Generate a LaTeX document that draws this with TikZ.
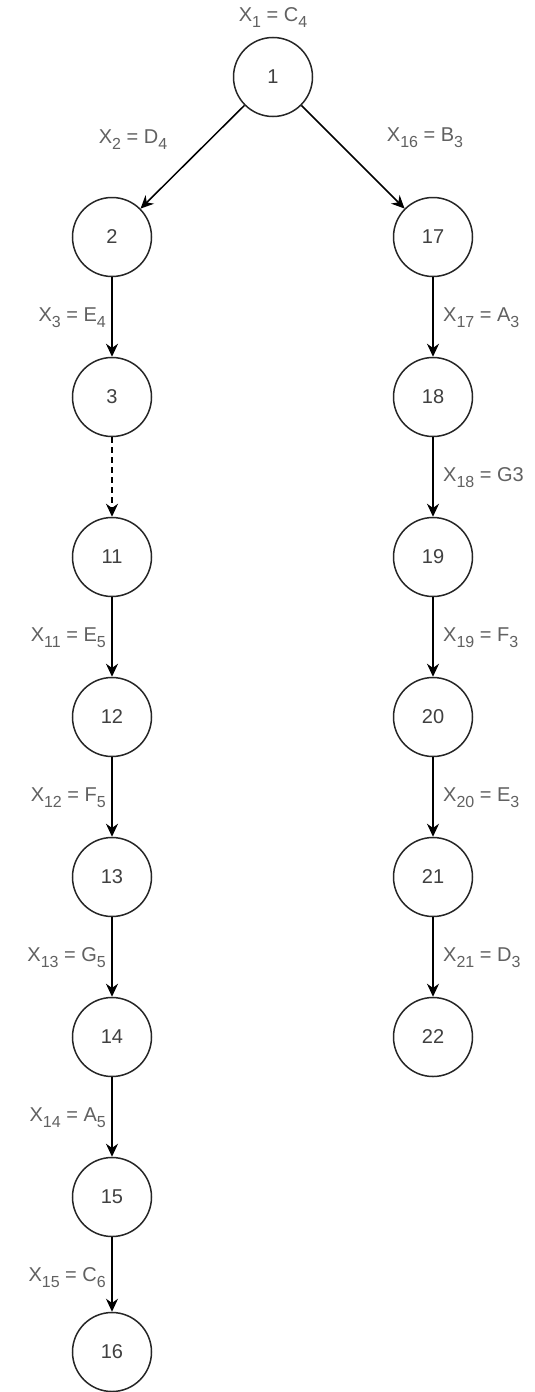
\documentclass[tikz,border=0pt]{standalone}
\usepackage{fontspec}
\setmainfont{Liberation Sans}
\usetikzlibrary{arrows.meta}
\newcommand{\sbs}[1]{\raisebox{-0.3em}{\fontsize{16}{16}\selectfont #1}}
\begin{document}
\begin{tikzpicture}[x=1pt,y=-1pt,
  state/.style={circle,draw=black!85,line width=1.5pt,minimum size=79pt,inner sep=0pt,
    text=black!75,font=\fontsize{20}{22}\selectfont},
  lbl/.style={text=black!62,font=\fontsize{20}{22}\selectfont,inner sep=0pt},
  edge/.style={draw=black,line width=1.5pt,-{Stealth[length=13pt,width=12pt]}},
  dedge/.style={edge,dash pattern=on 6pt off 4pt}]
\useasboundingbox (0,0) rectangle (535,1392);
\fill[white] (0,0) rectangle (535,1392);
% nodes
\node[state] (n1) at (273,77) {1};
\node[state] (n2) at (112,237) {2};
\node[state] (n3) at (112,397) {3};
\node[state] (n11) at (112,557) {11};
\node[state] (n12) at (112,717) {12};
\node[state] (n13) at (112,877) {13};
\node[state] (n14) at (112,1037) {14};
\node[state] (n15) at (112,1197) {15};
\node[state] (n16) at (112,1352) {16};
\node[state] (n17) at (433,237) {17};
\node[state] (n18) at (433,397) {18};
\node[state] (n19) at (433,557) {19};
\node[state] (n20) at (433,717) {20};
\node[state] (n21) at (433,877) {21};
\node[state] (n22) at (433,1037) {22};
% edges
\draw[edge] (n1) -- (n2);
\draw[edge] (n1) -- (n17);
\draw[edge] (n2) -- (n3);
\draw[dedge] (n3) -- (n11);
\draw[edge] (n11) -- (n12);
\draw[edge] (n12) -- (n13);
\draw[edge] (n13) -- (n14);
\draw[edge] (n14) -- (n15);
\draw[edge] (n15) -- (n16);
\draw[edge] (n17) -- (n18);
\draw[edge] (n18) -- (n19);
\draw[edge] (n19) -- (n20);
\draw[edge] (n20) -- (n21);
\draw[edge] (n21) -- (n22);
% labels
\node[lbl] (l1) at (273,18) {X\sbs{1} = C\sbs{4}};
\node[lbl] (l2) at (133,140) {X\sbs{2} = D\sbs{4}};
\node[lbl] (l16) at (425,138) {X\sbs{16} = B\sbs{3}};
\node[lbl,anchor=east] (l3) at (106,318) {X\sbs{3} = E\sbs{4}};
\node[lbl,anchor=east] (l11) at (106,638) {X\sbs{11} = E\sbs{5}};
\node[lbl,anchor=east] (l12) at (106,798) {X\sbs{12} = F\sbs{5}};
\node[lbl,anchor=east] (l13) at (106,958) {X\sbs{13} = G\sbs{5}};
\node[lbl,anchor=east] (l14) at (106,1118) {X\sbs{14} = A\sbs{5}};
\node[lbl,anchor=east] (l15) at (106,1278) {X\sbs{15} = C\sbs{6}};
\node[lbl,anchor=west] (l17) at (443,318) {X\sbs{17} = A\sbs{3}};
\node[lbl,anchor=west] (l18) at (443,478) {X\sbs{18} = G3};
\node[lbl,anchor=west] (l19) at (443,638) {X\sbs{19} = F\sbs{3}};
\node[lbl,anchor=west] (l20) at (443,798) {X\sbs{20} = E\sbs{3}};
\node[lbl,anchor=west] (l21) at (443,958) {X\sbs{21} = D\sbs{3}};
\end{tikzpicture}
\end{document}
